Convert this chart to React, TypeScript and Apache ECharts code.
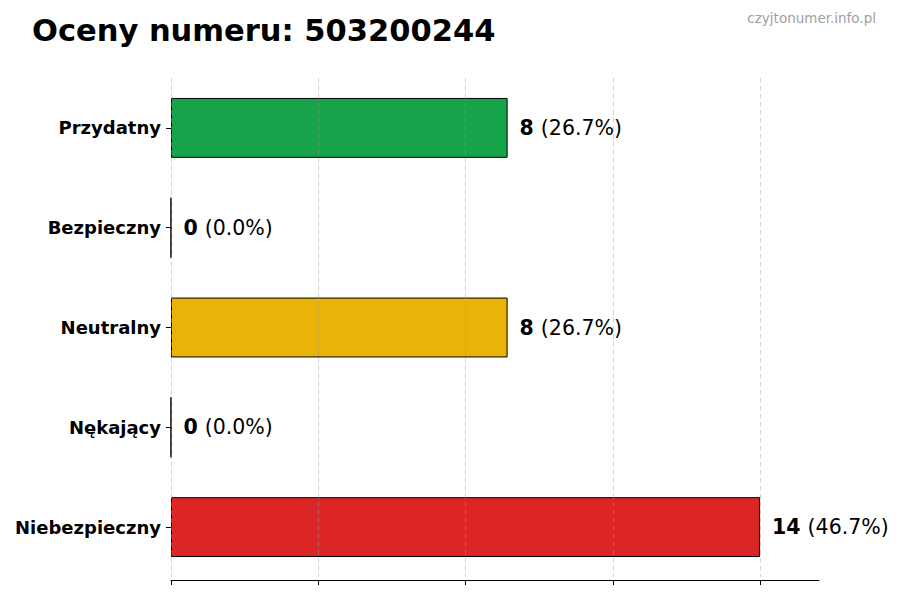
import React, { useEffect, useRef } from 'react';
import * as echarts from 'echarts';

const categories = ['Przydatny', 'Bezpieczny', 'Neutralny', 'Nękający', 'Niebezpieczny'];
const counts = [8, 0, 8, 0, 14];
const colors = ['#16a34a', '#9ca3af', '#eab308', '#6b7280', '#dc2626'];
const xTicks = [0, 3.5, 7, 10.5, 14];
const title = 'Oceny numeru: 503200244';
const watermark = 'czyjtonumer.info.pl';

const FONT = '"DejaVu Sans", sans-serif';

export default function App() {
  const chartRef = useRef<HTMLDivElement>(null);

  useEffect(() => {
    document.body.style.margin = '0';
    if (!chartRef.current) return;
    const chart = echarts.init(chartRef.current, null, { renderer: 'svg' });
    const total = counts.reduce((a, b) => a + b, 0);
    const maxVal = Math.max(...counts);

    const option: echarts.EChartsOption = {
      animation: false,
      backgroundColor: '#ffffff',
      textStyle: { fontFamily: FONT },
      title: [
        {
          text: title,
          left: 27,
          top: 10,
          textStyle: { fontFamily: FONT, fontSize: 30.5, fontWeight: 'bold', color: '#000' }
        },
        {
          text: watermark,
          right: 19,
          top: 6,
          textStyle: { fontFamily: FONT, fontSize: 13.5, fontWeight: 'normal', color: '#a0a0a0' }
        }
      ],
      grid: { left: 171, right: 81, top: 78, bottom: 23, containLabel: false },
      xAxis: {
        type: 'value',
        min: 0,
        max: maxVal * 1.1,
        interval: 3.5,
        offset: 3,
        z: 5,
        axisLine: { show: true, lineStyle: { color: '#000', width: 1 } },
        axisTick: { show: true, length: 5, customValues: xTicks, lineStyle: { color: '#000' } },
        axisLabel: { show: false, customValues: xTicks },
        splitLine: {
          show: true,
          lineStyle: { color: 'rgba(150,150,150,0.4)', type: [5, 3], width: 1 }
        }
      } as any,
      yAxis: {
        type: 'category',
        data: categories,
        inverse: true,
        axisLine: { show: false },
        axisTick: { show: true, alignWithLabel: true, length: 5, lineStyle: { color: '#000' } },
        axisLabel: {
          margin: 10,
          fontFamily: FONT,
          fontSize: 18,
          fontWeight: 'bold',
          color: '#000'
        },
        splitLine: { show: false }
      },
      series: [
        {
          type: 'bar',
          barWidth: '60%',
          data: counts.map((v, i) => ({
            value: v,
            itemStyle: { color: colors[i], borderColor: '#000', borderWidth: 1 }
          })),
          label: {
            show: true,
            position: 'right',
            distance: 12,
            formatter: (p: any) =>
              `{b|${p.value}}{n|(${((p.value / total) * 100).toFixed(1)}%)}`,
            rich: {
              b: { fontFamily: FONT, fontSize: 20.5, fontWeight: 'bold', color: '#000', padding: [0, 7, 0, 0] },
              n: { fontFamily: FONT, fontSize: 20.5, color: '#000' }
            }
          },
          z: 3
        },
        {
          type: 'scatter',
          symbol: 'rect',
          symbolSize: [1, 60],
          silent: true,
          itemStyle: { color: '#333' },
          data: counts
            .map((v, i) => (v === 0 ? [0, categories[i]] : null))
            .filter((d) => d !== null) as any,
          z: 4
        }
      ]
    };

    chart.setOption(option);
    return () => chart.dispose();
  }, []);

  return <div ref={chartRef} style={{ width: 900, height: 600 }} />;
}
